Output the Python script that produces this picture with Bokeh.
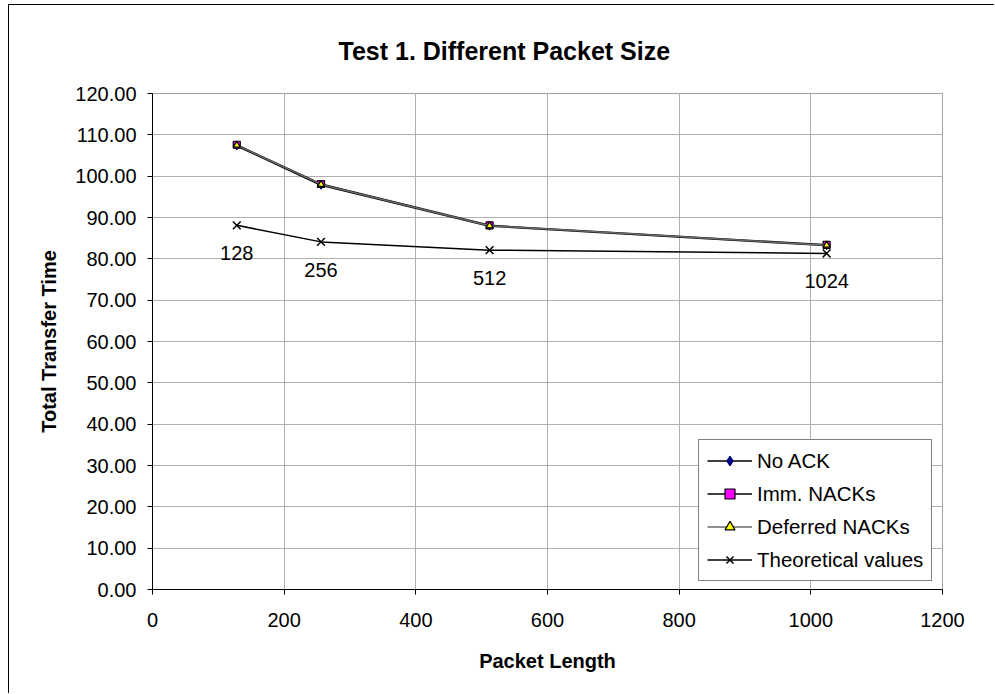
from bokeh.plotting import figure
from bokeh.models import (FixedTicker, NumeralTickFormatter, Legend, LegendItem,
                          Title, ColumnDataSource, InlineStyleSheet)
from bokeh.core.properties import value
from bokeh.embed import file_html
from bokeh.resources import INLINE

# ---------------- data ----------------
packet_length = [128, 256, 512, 1024]
no_ack = [107.3, 97.8, 87.9, 83.2]
imm_nacks = [107.6, 98.1, 88.1, 83.4]
deferred_nacks = [107.5, 98.0, 88.0, 83.3]
theoretical = [88.1, 84.1, 82.1, 81.3]
point_labels = ["128", "256", "512", "1024"]
x_ticks = [0, 200, 400, 600, 800, 1000, 1200]
y_ticks = [0, 10, 20, 30, 40, 50, 60, 70, 80, 90, 100, 110, 120]
title_text = "Test 1. Different Packet Size"

FONT = "Liberation Sans"

p = figure(width=986, height=689, output_backend="svg", toolbar_location=None,
           x_range=(0, 1200), y_range=(0, 120),
           min_border_left=143, min_border_right=53,
           min_border_top=88, min_border_bottom=105)
p.stylesheets = [InlineStyleSheet(css=":host { margin-left: 8px; margin-top: 4px; border-left: 1px solid black; border-top: 1px solid black; }")]

p.title = Title(text=title_text, align="left", offset=186,
                text_font=FONT, text_font_size="25px", text_font_style="bold",
                text_color="black", standoff=57)

p.background_fill_color = "white"
p.border_fill_color = "white"
p.outline_line_color = "#a0a0a0"

# grid
p.xgrid.ticker = FixedTicker(ticks=x_ticks)
p.ygrid.ticker = FixedTicker(ticks=y_ticks)
p.grid.grid_line_color = "#b0b0b0"
p.grid.grid_line_width = 1

# axes
for ax in (p.xaxis[0], p.yaxis[0]):
    ax.axis_line_color = "black"
    ax.major_tick_line_color = "black"
    ax.major_tick_in = 0
    ax.major_tick_out = 5
    ax.minor_tick_line_color = None
    ax.major_label_text_font = FONT
    ax.major_label_text_font_size = "20px"
    ax.major_label_text_color = "black"
    ax.axis_label_text_font = FONT
    ax.axis_label_text_font_size = "20px"
    ax.axis_label_text_font_style = "bold"
    ax.axis_label_text_color = "black"

p.xaxis.ticker = FixedTicker(ticks=x_ticks)
p.yaxis.ticker = FixedTicker(ticks=y_ticks)
p.yaxis.formatter = NumeralTickFormatter(format="0.00")
p.xaxis.axis_label = "Packet Length"
p.yaxis.axis_label = "Total Transfer Time"
p.xaxis.major_label_standoff = 18
p.yaxis.major_label_standoff = 11
p.xaxis.axis_label_standoff = 20
p.yaxis.axis_label_standoff = 12

# series
l1 = p.line(packet_length, no_ack, line_color="#000000", line_width=1.5)
m1 = p.scatter(packet_length, no_ack, marker="diamond", size=8,
               fill_color="#000080", line_color="#000080")
l2 = p.line(packet_length, imm_nacks, line_color="#000000", line_width=1.5)
m2 = p.scatter(packet_length, imm_nacks, marker="square", size=7,
               fill_color="#FF00FF", line_color="black", line_width=1.2)
l3 = p.line(packet_length, deferred_nacks, line_color="#6a6a6a", line_width=1.5)
m3 = p.scatter(packet_length, deferred_nacks, marker="triangle", size=7,
               fill_color="#FFFF00", line_color="black", line_width=1.2)
l4 = p.line(packet_length, theoretical, line_color="black", line_width=1.5)
m4 = p.scatter(packet_length, theoretical, marker="x", size=11,
               line_color="black", line_width=1.5)

# data labels
src = ColumnDataSource(dict(x=packet_length, y=theoretical, t=point_labels))
p.text(x="x", y="y", text="t", source=src, text_align="center",
       text_baseline="middle", y_offset=28, text_font=value(FONT),
       text_font_size="20px", text_color="black")

legend = Legend(items=[
    LegendItem(label="No ACK", renderers=[l1, m1]),
    LegendItem(label="Imm. NACKs", renderers=[l2, m2]),
    LegendItem(label="Deferred NACKs", renderers=[l3, m3]),
    LegendItem(label="Theoretical values", renderers=[l4, m4]),
], location=(546, 8))
legend.label_text_font = FONT
legend.label_text_font_size = "20.5px"
legend.label_text_color = "black"
legend.border_line_color = "black"
legend.border_line_width = 1
legend.background_fill_alpha = 1
legend.glyph_width = 45
legend.glyph_height = 25
legend.label_height = 25
legend.spacing = 8
legend.padding = 8
legend.margin = 0
legend.label_standoff = 5
p.add_layout(legend, "center")

open("out.html", "w").write(file_html(p, INLINE))
